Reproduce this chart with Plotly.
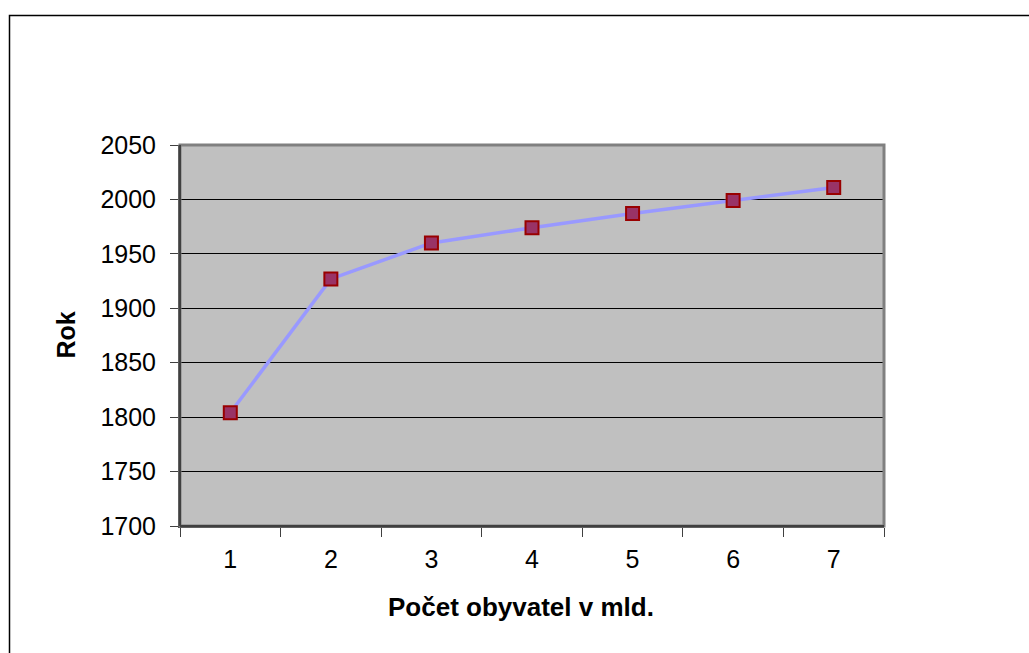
import plotly.graph_objects as go

categories = ["1", "2", "3", "4", "5", "6", "7"]
years = [1804, 1927, 1960, 1974, 1987, 1999, 2011]
y_ticks = [1700, 1750, 1800, 1850, 1900, 1950, 2000, 2050]

W, H = 1029, 653
L, R, T, B = 180, 145, 145, 127
pw = W - L - R
ph = H - T - B


def px_x(x):
    return (x - L) / pw


def px_y(y):
    return (H - B - y) / ph


fig = go.Figure()
fig.add_trace(go.Scatter(
    x=categories, y=years, mode="lines+markers",
    line=dict(color="#9999FF", width=3.5),
    marker=dict(symbol="square", size=13, color="#993366",
                line=dict(color="#990000", width=2)),
    cliponaxis=False,
))

FONT = "Liberation Sans, Arial, sans-serif"
fig.update_layout(
    width=W, height=H,
    margin=dict(l=L, r=R, t=T, b=B),
    paper_bgcolor="white", plot_bgcolor="#C0C0C0",
    showlegend=False,
    font=dict(family=FONT, size=25, color="black"),
    xaxis=dict(type="category", tickson="boundaries", ticks="outside",
               ticklen=9, tickcolor="#404040", tickwidth=1,
               showline=True, linecolor="#404040", linewidth=2,
               showgrid=False, tickfont=dict(size=25), ticklabelstandoff=10,
               range=[-0.5, 6.5]),
    yaxis=dict(range=[1700, 2050], tickvals=y_ticks, ticks="outside",
               ticklen=8, tickcolor="#404040", showline=True,
               linecolor="#404040", linewidth=2, showgrid=True,
               gridcolor="black", gridwidth=1, tickfont=dict(size=25),
               ticklabelstandoff=9, zeroline=False),
    annotations=[
        dict(text="<b>Rok</b>", x=px_x(65), y=px_y(335.5), xref="paper", yref="paper",
             xanchor="center", yanchor="middle",
             showarrow=False, textangle=-90, font=dict(size=25)),
        dict(text="<b>Počet obyvatel v mld.</b>", x=px_x(520.5), y=px_y(607),
             xref="paper", yref="paper", xanchor="center", yanchor="middle",
             showarrow=False, font=dict(size=26)),
    ],
)
# Outer chart border (extends beyond the visible window right/bottom)
fig.add_shape(type="rect", xref="paper", yref="paper",
              x0=px_x(9.5), x1=px_x(1045), y0=px_y(670), y1=px_y(15.5),
              line=dict(color="black", width=1.5), layer="below")
# Plot-area frame: gray on top/right
fig.add_shape(type="rect", xref="paper", yref="paper", x0=0, x1=1, y0=0, y1=1,
              line=dict(color="#808080", width=3), layer="above")
# Left/bottom axis lines on top of the gray frame
fig.add_shape(type="line", xref="paper", yref="paper", x0=0, x1=0, y0=0, y1=1,
              line=dict(color="#404040", width=2))
fig.add_shape(type="line", xref="paper", yref="paper", x0=0, x1=1, y0=0, y1=0,
              line=dict(color="#404040", width=2))

fig.write_html("out.html", config={"displayModeBar": False},
               post_script="document.body.style.margin='0';document.body.style.overflow='hidden';")
